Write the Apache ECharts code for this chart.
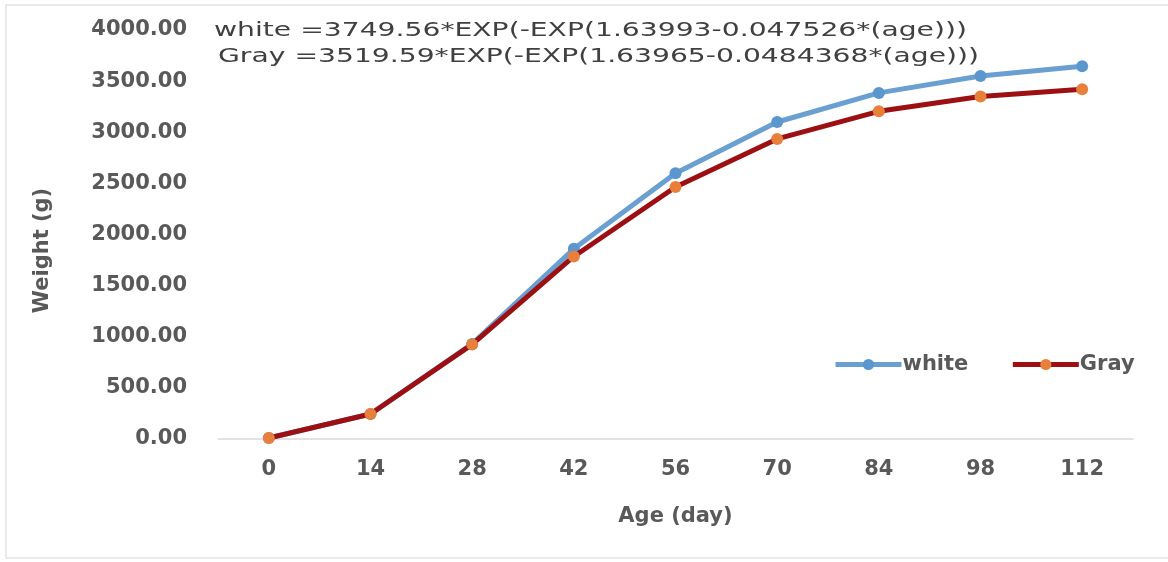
<!DOCTYPE html>
<html>
<head>
<meta charset="utf-8">
<script src="https://cdn.jsdelivr.net/npm/echarts@6/dist/echarts.min.js"></script>
<style>
html,body{margin:0;padding:0;background:#fff;}
#chart{width:1168px;height:562px;}
</style>
</head>
<body>
<div id="chart"></div>
<script>
const ages = ['0','14','28','42','56','70','84','98','112'];
const whiteWeights = [10, 245, 930, 1860, 2600, 3100, 3385, 3550, 3645];
const grayWeights = [10, 245, 925, 1785, 2465, 2935, 3205, 3350, 3420];
const yTicks = [0, 500, 1000, 1500, 2000, 2500, 3000, 3500, 4000];
const equationWhite = 'white =3749.56*EXP(-EXP(1.63993-0.047526*(age)))';
const equationGray = 'Gray =3519.59*EXP(-EXP(1.63965-0.0484368*(age)))';

const txt = '#595959';
const font = 'DejaVu Sans';
const chart = echarts.init(document.getElementById('chart'));
chart.setOption({
  backgroundColor: '#fff',
  animation: false,
  textStyle: { fontFamily: font },
  graphic: [
    { type: 'rect', shape: { x: 6, y: 5, width: 1200, height: 553 },
      style: { fill: 'none', stroke: '#e3e3e3', lineWidth: 1.5 }, silent: true },
    { type: 'text', x: 214, y: 21, scaleX: 1.41,
      style: { text: equationWhite, font: '20px "DejaVu Sans"', fill: '#404040' } },
    { type: 'text', x: 218, y: 47, scaleX: 1.41,
      style: { text: equationGray, font: '20px "DejaVu Sans"', fill: '#404040' } }
  ],
  grid: { left: 218, right: 35, top: 30, bottom: 123, containLabel: false },
  legend: {
    left: 828, top: 349,
    itemWidth: 66, itemHeight: 14, itemGap: 42,
    textStyle: { color: txt, fontSize: 21, fontWeight: 'bold', fontFamily: font, padding: [0,0,0,-4] },
    lineStyle: { width: 5 },
    data: ['white', 'Gray']
  },
  xAxis: {
    type: 'category',
    data: ages,
    boundaryGap: true,
    name: 'Age (day)',
    nameLocation: 'middle',
    nameGap: 67,
    nameTextStyle: { color: txt, fontSize: 21, fontWeight: 'bold', fontFamily: font },
    axisLine: { show: true, lineStyle: { color: '#d9d9d9', width: 1.5 } },
    axisTick: { show: false },
    axisLabel: { color: txt, fontSize: 21, fontWeight: 'bold', margin: 20, fontFamily: font },
    splitLine: { show: false }
  },
  yAxis: {
    type: 'value',
    min: 0, max: 4000, interval: 500,
    name: 'Weight (g)',
    nameLocation: 'middle',
    nameGap: 165,
    nameTextStyle: { color: txt, fontSize: 21, fontWeight: 'bold', fontFamily: font, padding: [0, 32, 0, 0] },
    axisLine: { show: false },
    axisTick: { show: false },
    splitLine: { show: false },
    axisLabel: {
      color: txt, fontSize: 21, fontWeight: 'bold', margin: 31, fontFamily: font,
      formatter: v => yTicks.includes(v) ? v.toFixed(2) : ''
    }
  },
  series: [
    {
      name: 'white', type: 'line', data: whiteWeights,
      symbol: 'circle', symbolSize: 12,
      lineStyle: { color: '#6a9fd2', width: 5 },
      itemStyle: { color: '#5b96cf' },
      z: 2
    },
    {
      name: 'Gray', type: 'line', data: grayWeights,
      symbol: 'circle', symbolSize: 12,
      lineStyle: { color: '#9c1014', width: 5 },
      itemStyle: { color: '#e8803c' },
      z: 3
    }
  ]
});
</script>
</body>
</html>
